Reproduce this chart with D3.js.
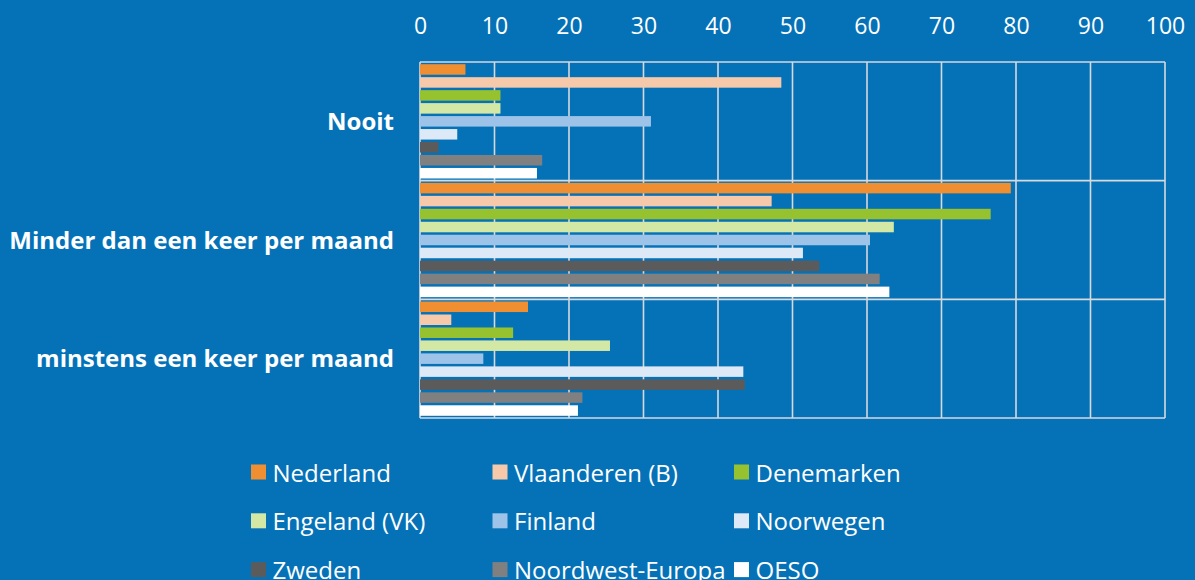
<!DOCTYPE html>
<html>
<head>
<meta charset="utf-8">
<script src="https://cdn.jsdelivr.net/npm/d3@7"></script>
<style>
    body { margin: 0; background: #0572b8; }
    svg { display: block; }
    .tick-label { font-family: "Open Sans", sans-serif; font-size: 23px; fill: #fff; }
    .cat-label { font-family: "Open Sans", sans-serif; font-size: 24px; font-weight: bold; fill: #fff; }
    .legend-text { font-family: "Open Sans", sans-serif; font-size: 24px; fill: #fff; }
</style>
</head>
<body>
<div id="chart"></div>
<script>
// categories (top to bottom)
var categories = ["Nooit", "Minder dan een keer per maand", "minstens een keer per maand"];
var seriesNames = ["Nederland", "Vlaanderen (B)", "Denemarken", "Engeland (VK)", "Finland",
    "Noorwegen", "Zweden", "Noordwest-Europa", "OESO"];
var seriesColors = ["#f08f32", "#f7c9ab", "#97c22f", "#d4e8a6", "#9dc3e8",
    "#dde9f6", "#5b5b5b", "#808080", "#ffffff"];

// values per series, in order of categories
var nederland = [6.1, 79.3, 14.5];
var vlaanderen = [48.5, 47.2, 4.2];
var denemarken = [10.8, 76.6, 12.5];
var engeland = [10.8, 63.6, 25.5];
var finland = [31.0, 60.4, 8.5];
var noorwegen = [5.0, 51.4, 43.4];
var zweden = [2.5, 53.6, 43.6];
var noordwest = [16.4, 61.7, 21.8];
var oeso = [15.7, 63.0, 21.2];

var tickValues = [0, 10, 20, 30, 40, 50, 60, 70, 80, 90, 100];

var seriesValues = [nederland, vlaanderen, denemarken, engeland, finland,
    noorwegen, zweden, noordwest, oeso];

var chart = {
    w: 1195,
    h: 580,
    left: 420,
    right: 1165,
    plotTop: 62,
    plotBottom: 418,
    gridColor: "#d6d9de",
    plot: function() {
        var self = this;
        var svg = d3.select("#chart")
            .append("svg")
            .attr("width", this.w)
            .attr("height", this.h);

        svg.append("rect")
            .attr("width", this.w)
            .attr("height", this.h)
            .attr("fill", "#0572b8");

        var xScale = d3.scaleLinear().domain([0, 100]).range([this.left, this.right]);
        var yScale = d3.scaleBand().domain(categories).range([this.plotTop, this.plotBottom]);
        var inner = d3.scaleBand().domain(d3.range(seriesNames.length))
            .range([0, yScale.bandwidth()])
            .paddingInner(0.19)
            .paddingOuter(0.17);

        // grid
        var grid = svg.append("g");
        tickValues.forEach(function(t) {
            grid.append("line")
                .attr("x1", xScale(t)).attr("x2", xScale(t))
                .attr("y1", self.plotTop).attr("y2", self.plotBottom)
                .attr("stroke", self.gridColor)
                .attr("stroke-width", 1.6);
        });
        var hLines = categories.map(function(c) { return yScale(c); }).concat([this.plotBottom]);
        hLines.forEach(function(y) {
            grid.append("line")
                .attr("x1", self.left).attr("x2", self.right)
                .attr("y1", y).attr("y2", y)
                .attr("stroke", self.gridColor)
                .attr("stroke-width", 1.6);
        });

        // top axis labels
        var xAxis = d3.axisTop(xScale)
            .tickValues(tickValues)
            .tickSize(0)
            .tickPadding(0);
        var axisG = svg.append("g")
            .attr("transform", "translate(0, 34)")
            .call(xAxis);
        axisG.select(".domain").remove();
        axisG.attr("font-size", null).attr("font-family", null);
        axisG.selectAll("text")
            .attr("class", "tick-label")
            .attr("fill", null)
            .attr("dy", 0);

        // category labels
        svg.append("g").selectAll("text")
            .data(categories)
            .enter()
            .append("text")
            .attr("class", "cat-label")
            .attr("x", 394)
            .attr("y", function(d) { return yScale(d) + yScale.bandwidth() / 2 - 1; })
            .attr("text-anchor", "end")
            .attr("dominant-baseline", "central")
            .text(function(d) { return d; });

        // bars
        seriesValues.forEach(function(vals, s) {
            svg.append("g").selectAll("rect")
                .data(vals)
                .enter()
                .append("rect")
                .attr("x", xScale(0))
                .attr("y", function(d, i) { return yScale(categories[i]) + inner(s); })
                .attr("width", function(d) { return xScale(d) - xScale(0); })
                .attr("height", inner.bandwidth())
                .attr("fill", seriesColors[s]);
        });

        // legend
        var legendCols = [251, 492.5, 734],
            legendRowY = 472,
            legendRowH = 48.8;
        var legend = svg.append("g").selectAll("g")
            .data(seriesNames)
            .enter()
            .append("g")
            .attr("transform", function(d, i) {
                return "translate(" + legendCols[i % 3] + "," + (legendRowY + Math.floor(i / 3) * legendRowH) + ")";
            });
        legend.append("rect")
            .attr("x", 0).attr("y", -7.5)
            .attr("width", 15).attr("height", 15)
            .attr("fill", function(d, i) { return seriesColors[i]; });
        legend.append("text")
            .attr("class", "legend-text")
            .attr("x", 21.5)
            .attr("y", 0)
            .attr("dominant-baseline", "central")
            .text(function(d) { return d; });
    }
};

chart.plot();
</script>
</body>
</html>
